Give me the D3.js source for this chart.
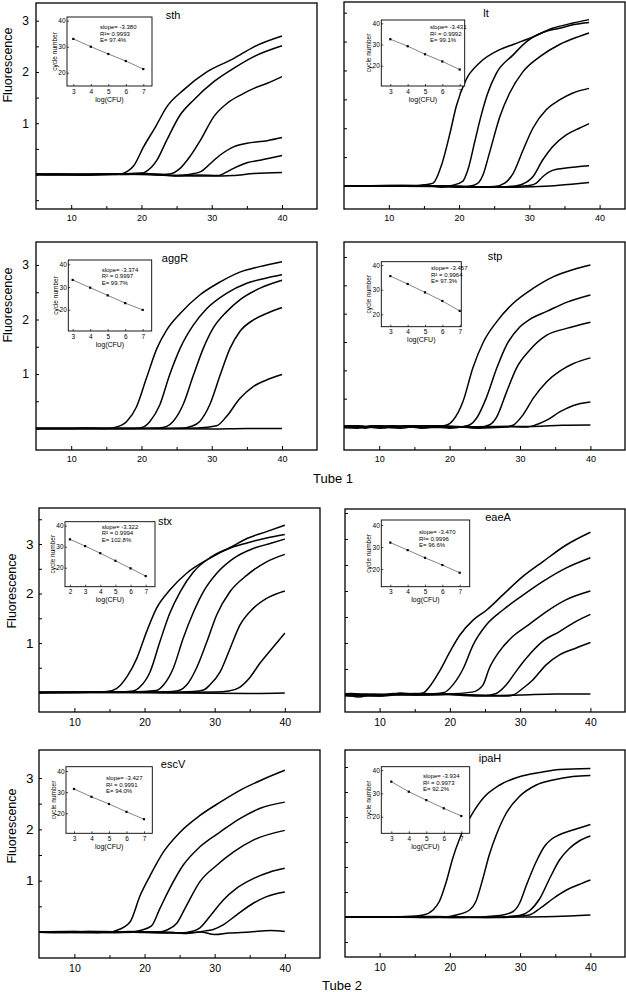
<!DOCTYPE html>
<html><head><meta charset="utf-8">
<script src="https://cdn.jsdelivr.net/npm/d3@7"></script>
<style>
body{margin:0;background:#fff}
svg{display:block}
text{font-family:"Liberation Sans",Arial,Helvetica,sans-serif;fill:#000}
</style>
</head><body>
<svg id="chart" width="626" height="992"></svg>
<script>
// ---------------- DATA ----------------
const genes = ["sth","lt","aggR","stp","stx","eaeA","escV","ipaH"];
const tubeLabels = ["Tube 1","Tube 2"];
const yAxisTitle = "Fluorescence";
const xTickValues = [10,15,20,25,30,35,40];
const xTickLabels = [10,20,30,40];
const yTickValues = [-0.5,0,0.5,1,1.5,2,2.5,3,3.5];
const yTickLabels = [1,2,3];
const insetYTicks = [20,30,40];
const insetXTitle = "log(CFU)";
const insetYTitle = "cycle number";

const insetStats = [
  ["slope= -3.380","R\u00b2= 0.9993","E= 97.4%"],
  ["slope= -3.431","R\u00b2 = 0.9992","E= 99.1%"],
  ["slope= -3.374","R\u00b2 = 0.9997","E= 99.7%"],
  ["slope= -3.457","R\u00b2 = 0.9964","E= 97.3%"],
  ["slope= -3.322","R\u00b2 = 0.9994","E= 102.8%"],
  ["slope= -3.470","R\u00b2= 0.9996","E= 96.6%"],
  ["slope= -3.427","R\u00b2 = 0.9991","E= 94.0%"],
  ["slope= -3.934","R\u00b2 = 0.9973","E= 92.2%"]
];
const insetLogCFU = [
  [3,4,5,6,7],[3,4,5,6,7],[3,4,5,6,7],[3,4,5,6,7],
  [2,3,4,5,6,7],[3,4,5,6,7],[3,4,5,6,7],[3,4,5,6,7]
];
const insetCycles = [
  [33.0,30.0,27.2,24.5,21.4],
  [32.5,29.2,25.4,22.0,18.2],
  [33.1,29.7,26.3,22.9,19.9],
  [35.5,32.3,28.9,25.4,21.4],
  [33.5,30.3,26.9,23.3,19.7,16.0],
  [32.0,28.6,25.1,21.8,18.3],
  [31.5,27.8,24.4,20.7,17.2],
  [35.0,30.7,27.1,23.6,20.3]
];

// amplification curves: [cycle, fluorescence]
const sthCurves = [
  [[3,0],[8,0.01],[12,-0.01],[15,0.01],[17,0.01],[18,0.06],[18.9,0.17],[20.3,0.54],[22,0.93],[23.6,1.32],[26,1.65],[29.3,2.0],[33.1,2.26],[36,2.49],[40,2.70]],
  [[3,0.01],[9,0],[14,0.01],[18,0],[20,0.02],[20.8,0.07],[22.2,0.28],[23.6,0.67],[25.5,1.16],[27.4,1.45],[30.3,1.81],[33.1,2.07],[36,2.3],[40,2.51]],
  [[3,0],[10,-0.01],[16,0],[20,0.03],[22,0],[24,0.01],[25.5,0.12],[26.9,0.35],[28.4,0.67],[30.3,1.13],[32.2,1.39],[34.1,1.55],[36,1.68],[37.9,1.78],[40,1.91]],
  [[3,0.01],[12,0],[20,0.01],[24,-0.02],[26,-0.01],[27.5,0.02],[28.5,0.06],[29.3,0.15],[31.2,0.38],[33.1,0.54],[35,0.61],[37.9,0.66],[40,0.72]],
  [[3,0],[14,0],[22,0.01],[25,-0.03],[28,-0.01],[31,-0.02],[32,0.04],[33.1,0.12],[35,0.23],[36.9,0.28],[40,0.37]],
  [[3,0],[16,0.01],[25,-0.02],[30,-0.03],[33,-0.02],[36,0.02],[40,0.04]]
];
const ltCurves = [
  [[3,0],[10,0.01],[14,0.01],[15,0.02],[16.3,0.05],[17.5,0.36],[18.7,0.91],[19.6,1.38],[21,1.84],[22.9,2.13],[25.8,2.36],[27.7,2.45],[30.5,2.58],[33.3,2.73],[36.2,2.82],[38.5,2.88]],
  [[3,0],[12,0.01],[16,0],[17.5,-0.02],[19,0.01],[20.5,0.08],[21.3,0.3],[22.2,0.75],[23.1,1.2],[24,1.58],[25.3,1.95],[27.7,2.27],[29.6,2.5],[32.4,2.68],[34.3,2.73],[36.2,2.79],[38.5,2.83]],
  [[3,0],[15,0],[20,-0.02],[22,0.01],[22.8,0.06],[23.4,0.19],[24.3,0.56],[25.8,1.2],[27.2,1.61],[29.1,1.98],[31.5,2.24],[34.3,2.45],[37.1,2.59],[38.5,2.65]],
  [[3,0],[18,0],[22,-0.02],[25,-0.01],[26.5,0.05],[27.7,0.22],[29.1,0.62],[30.5,1.0],[32.4,1.32],[34.3,1.49],[36.2,1.61],[38.5,1.69]],
  [[3,0],[18,0],[24,-0.02],[28,0],[29,0.03],[30.5,0.16],[31.9,0.45],[33.3,0.68],[35.2,0.88],[37.1,1.0],[38.5,1.08]],
  [[3,0],[20,-0.01],[26,-0.02],[30,0.01],[31,0.05],[31.9,0.16],[33.3,0.27],[35.2,0.31],[38.5,0.35]],
  [[3,0],[20,-0.01],[28,-0.02],[33,0],[36,0.03],[38.5,0.06]]
];
const aggRCurves = [
  [[3,0],[10,0],[12,0.01],[15,0],[16.5,0.03],[17.9,0.13],[19.3,0.4],[20.7,0.92],[22.2,1.47],[23.6,1.81],[25.5,2.11],[28.3,2.45],[31.2,2.69],[34,2.87],[36.8,2.97],[40,3.06]],
  [[3,0],[15,0],[19,0],[20.3,0.03],[21.2,0.13],[22.6,0.43],[24,0.98],[25.5,1.47],[27.4,1.9],[29.3,2.2],[32.1,2.48],[34.9,2.66],[37.8,2.76],[40,2.82]],
  [[3,0],[18,0],[22.5,0.01],[23.6,0.04],[24.5,0.13],[25.9,0.43],[27.4,0.98],[28.8,1.47],[30.2,1.84],[32.1,2.14],[34,2.36],[36.8,2.57],[40,2.72]],
  [[3,0],[20,0],[26,0.01],[27.1,0.04],[28.3,0.13],[29.7,0.43],[31.2,0.98],[32.6,1.47],[34,1.78],[35.9,1.99],[37.8,2.11],[40,2.22]],
  [[3,0],[22,0],[28,0.01],[30.7,0.05],[32.1,0.22],[34,0.55],[35.9,0.77],[37.8,0.89],[40,0.99]],
  [[3,0],[20,0],[30,-0.01],[35,0],[40,0]]
];
const stpCurves = [
  [[3,0],[6,0.02],[8,-0.02],[10,0.02],[12,-0.01],[14,0.02],[16,-0.02],[18,0.01],[19.5,0.03],[20.5,0.12],[21.9,0.45],[23.3,1.04],[24.8,1.5],[26.7,1.86],[29,2.18],[31.9,2.45],[34.7,2.65],[37.6,2.78],[40,2.86]],
  [[3,0],[7,-0.02],[9,0.02],[11,0],[13,-0.02],[15,0.01],[17,0.02],[20,-0.02],[22,0.01],[22.9,0.04],[23.8,0.15],[25.2,0.51],[26.7,1.04],[28.1,1.45],[30,1.77],[31.4,1.9],[33.8,2.04],[36.6,2.2],[40,2.33]],
  [[3,0.01],[7,0.02],[10,-0.02],[14,0.01],[18,-0.01],[21,0],[24,-0.01],[25.7,0.04],[26.7,0.18],[28.1,0.62],[29.5,1.04],[31.4,1.36],[33.8,1.62],[36.6,1.74],[40,1.85]],
  [[3,-0.01],[8,0.01],[12,0.02],[16,-0.01],[20,0.01],[24,-0.02],[28,0],[29,0.03],[30.4,0.21],[31.9,0.51],[33.8,0.8],[35.7,0.99],[37.6,1.12],[40,1.22]],
  [[3,0],[10,0],[18,0.02],[24,0],[28,0.01],[31,0],[32.1,0.03],[33.8,0.12],[35.7,0.27],[37.6,0.38],[40,0.44]],
  [[3,0.02],[9,0],[15,0.02],[20,0],[26,0.01],[32,0.01],[36,0.03],[40,0.035]]
];
const stxCurves = [
  [[3,0],[10,0],[13,0.01],[14.6,0.02],[16,0.08],[17.5,0.32],[18.9,0.69],[20.3,1.23],[21.7,1.7],[23.6,2.07],[26,2.41],[28.9,2.68],[31.7,2.89],[34.6,3.02],[37.4,3.12],[40,3.19]],
  [[3,0],[16,0.01],[18.4,0.03],[19.4,0.12],[20.8,0.42],[22.2,1.03],[23.6,1.6],[25.1,2.04],[27,2.44],[29.4,2.73],[32.2,2.93],[34.6,3.11],[37.4,3.25],[40,3.38]],
  [[3,0],[18,0.01],[21.7,0.04],[22.7,0.15],[24.1,0.49],[25.5,1.09],[27,1.63],[28.4,2.04],[30.3,2.41],[32.7,2.71],[35.5,2.91],[37.9,3.01],[40,3.1]],
  [[3,0],[20,0.01],[24,0.02],[25.1,0.05],[26,0.15],[27.4,0.49],[28.9,1.03],[30.3,1.57],[32.2,2.04],[34.6,2.37],[37.4,2.64],[40,2.79]],
  [[3,0],[22,0],[27,0.02],[28.4,0.05],[29.3,0.15],[30.8,0.42],[32.2,0.89],[33.6,1.36],[35.5,1.7],[37.4,1.9],[40,2.05]],
  [[3,0],[24,0],[30,0.01],[32,0.03],[33.5,0.1],[35,0.3],[36.5,0.6],[38,0.86],[40,1.2]],
  [[3,0],[15,0.01],[25,-0.01],[35,-0.02],[40,-0.01]]
];
const eaeACurves = [
  [[3,-0.02],[5,0.01],[7,-0.04],[9,0.01],[11,0],[13,0.04],[15,0.02],[16.2,0.04],[17.1,0.16],[18.5,0.45],[20,0.83],[21.4,1.15],[23.3,1.44],[25.2,1.63],[27.5,1.92],[30.4,2.28],[33.2,2.56],[36.5,2.88],[40,3.13]],
  [[3,0.02],[6,-0.02],[8,0.01],[10,-0.02],[12,0.03],[14,0.01],[17,0.02],[19.2,0.05],[20.4,0.19],[21.9,0.51],[23.3,0.96],[25.2,1.35],[27.5,1.63],[30.4,1.92],[33.2,2.18],[36.5,2.44],[40,2.64]],
  [[3,0],[6,0.03],[9,-0.01],[12,0.02],[16,0],[20,0.02],[23.3,0.06],[24.7,0.19],[25.6,0.51],[27,0.83],[28.9,1.12],[31.2,1.35],[33.7,1.6],[36.5,1.83],[40,2.0]],
  [[3,-0.01],[8,0.02],[14,0],[20,0.01],[25,-0.01],[26.6,0.03],[28,0.19],[29.4,0.45],[30.9,0.71],[33.2,1.03],[35.6,1.22],[37.9,1.41],[40,1.55]],
  [[3,0],[10,0.01],[18,0.02],[24,-0.02],[28,-0.02],[29,0],[30.4,0.13],[31.8,0.29],[33.7,0.58],[35.6,0.77],[37.9,0.9],[40,1.01]],
  [[3,0.01],[10,-0.02],[15,0.03],[20,0.02],[26,-0.01],[30,0],[35,0.02],[40,0.02]]
];
const escVCurves = [
  [[3,0],[8,-0.01],[12,0.01],[15,0],[16,0.03],[17.9,0.19],[19.4,0.72],[20.8,1.1],[22.7,1.56],[25.1,1.95],[27.9,2.27],[30.8,2.53],[33.6,2.76],[37,2.98],[40,3.15]],
  [[3,0],[10,0.01],[14,-0.01],[18,0],[19.4,0.03],[21,0.12],[22.2,0.46],[23.6,0.85],[25.5,1.3],[27.9,1.66],[30.8,1.95],[33.6,2.21],[36.5,2.41],[40,2.53]],
  [[3,0],[12,-0.01],[18,0.01],[22,0],[23.2,0.04],[24.6,0.17],[26,0.52],[27.9,0.98],[30.3,1.3],[32.7,1.56],[35.5,1.79],[40,1.98]],
  [[3,0],[14,0.01],[20,-0.01],[25,-0.02],[27,0.02],[27.9,0.08],[29.3,0.3],[31.2,0.62],[33.1,0.85],[35.5,1.04],[37.9,1.17],[40,1.24]],
  [[3,0],[15,-0.01],[22,0],[26,-0.02],[29,0.03],[29.8,0.05],[31.2,0.14],[33.1,0.33],[35.5,0.56],[37.4,0.69],[40,0.78]],
  [[3,0],[10,-0.01],[18,0],[24,-0.01],[26,-0.03],[28,0],[30,-0.05],[32,-0.02],[35,0],[38,0.03],[40,0.01]]
];
const ipaHCurves = [
  [[3,0],[10,0],[14,0.01],[16.2,0.04],[17.6,0.14],[18.5,0.31],[19.5,0.71],[20.4,1.17],[21.4,1.57],[22.8,1.97],[24.7,2.37],[27.1,2.64],[30,2.81],[32.8,2.89],[35.6,2.95],[40,2.97]],
  [[3,0],[12,0],[17,-0.01],[20,0.01],[20.9,0.04],[22.8,0.14],[23.7,0.31],[24.7,0.77],[25.6,1.24],[26.6,1.64],[28,2.07],[29.9,2.41],[32.3,2.64],[34.7,2.74],[37.5,2.81],[40,2.83]],
  [[3,0],[15,0],[22,-0.01],[27.1,0.03],[29,0.11],[29.9,0.27],[30.9,0.64],[32.3,1.11],[33.5,1.42],[34.5,1.56],[35.5,1.64],[37.5,1.74],[40,1.85]],
  [[3,0],[18,0.01],[25,-0.01],[29.9,0.03],[31.3,0.12],[32.8,0.37],[34.2,0.77],[35.6,1.14],[37,1.37],[38.4,1.52],[40,1.62]],
  [[3,0],[20,0],[27,-0.01],[31.3,0.04],[32.8,0.17],[34.7,0.37],[36.6,0.54],[38.4,0.65],[40,0.74]],
  [[3,0],[20,-0.01],[30,0],[35,0.01],[40,0.04]]
];
const curveSets = [sthCurves, ltCurves, aggRCurves, stpCurves, stxCurves, eaeACurves, escVCurves, ipaHCurves];

// ---------------- LAYOUT ----------------
const layout = [
  {l:36, r:317, t:3,   b:209, x10:71.2,  x40:282,   y0:174.5, y3:20.7, left:true,  row:0, title:[173,15], fl:[8,65],
   ins:{l:67, r:152, t:17, b:86, x3:73.3, x7:143.3, y40:20.7, y20:72.7, tx:100, ty:29}},
  {l:344,r:625, t:2,   b:209, x10:388.8, x40:599.6, y0:186,   y3:12.7, left:false, row:0, title:[486,13],
   ins:{l:381.3, r:464.7, t:20, b:86, x3:390.3, x7:459.7, y40:23.3, y20:65.7, tx:430, ty:29}},
  {l:36, r:317, t:242, b:450, x10:71.2,  x40:282,   y0:428.5, y3:265, left:true,  row:1, title:[175,258], fl:[8,305],
   ins:{l:68.3, r:151.7, t:260, b:331, x3:72.7, x7:142.7, y40:264.3, y20:309.7, tx:101.7, ty:271.5}},
  {l:344,r:625, t:242, b:450, x10:379.2, x40:590.4, y0:427,   y3:257, left:false, row:1, title:[495,256],
   ins:{l:381.3, r:461.3, t:261.7, b:326.7, x3:390.3, x7:459.7, y40:265, y20:314.3, tx:431, ty:270}},
  {l:39, r:320, t:508, b:712, x10:74.4,  x40:284.8, y0:692.5, y3:544, left:true,  row:2, title:[165,521], fl:[12,591],
   ins:{l:65, r:155, t:521.7, b:586.7, x3:85.1, x7:145.7, y40:525.7, y20:567.7, tx:101.7, ty:528.5}},
  {l:345,r:625, t:509, b:712, x10:379.6, x40:590.4, y0:695,   y3:539, left:false, row:2, title:[498,517],
   ins:{l:381.3, r:469.7, t:520, b:586.7, x3:390.3, x7:459.7, y40:525, y20:569, tx:419, ty:534}},
  {l:39, r:320, t:750, b:958, x10:74.4,  x40:284.8, y0:932,   y3:778, left:true,  row:3, title:[173,764], fl:[12,826],
   ins:{l:66, r:152.3, t:766.7, b:833.3, x3:74, x7:144, y40:771, y20:813.3, tx:106, ty:780}},
  {l:345,r:625, t:750, b:957, x10:379.6, x40:590.4, y0:917,   y3:767, left:false, row:3, title:[490,758],
   ins:{l:381.3, r:469.7, t:766.7, b:833.3, x3:391.3, x7:461.3, y40:770, y20:816.7, tx:423, ty:778}}
];
const tubePos = [[333,483],[342,990]];

// ---------------- DRAW ----------------
const svg = d3.select("#chart");
svg.append("rect").attr("width",626).attr("height",992).attr("fill","#fff");
const defs = svg.append("defs");
const intFmt = d3.format("d");

layout.forEach((L,i) => {
  const small = L.row < 2;
  const tickFont = small ? 9 : 10.5;
  const yFont = small ? 12 : 13.5;
  const x = d3.scaleLinear().domain([10,40]).range([L.x10, L.x40]);
  const y = d3.scaleLinear().domain([0,3]).range([L.y0, L.y3]);
  const g = svg.append("g");

  defs.append("clipPath").attr("id","clip"+i)
    .append("rect").attr("x",L.l).attr("y",L.t).attr("width",L.r-L.l).attr("height",L.b-L.t);

  // curves
  const line = d3.line().x(d=>x(d[0])).y(d=>y(d[1])).curve(d3.curveMonotoneX);
  g.append("g").attr("clip-path",`url(#clip${i})`)
    .selectAll("path").data(curveSets[i]).join("path")
    .attr("d", line).attr("fill","none").attr("stroke","#000")
    .attr("stroke-width",1.5).attr("stroke-linejoin","round");

  // x axis ticks (inward)
  const xMajor = xTickValues.filter(v=>xTickLabels.includes(v));
  const xMinor = xTickValues.filter(v=>!xTickLabels.includes(v));
  const xa = g.append("g").attr("transform",`translate(0,${L.b})`)
    .call(d3.axisBottom(x).tickValues(xMajor).tickSizeInner(-4).tickSizeOuter(0)
      .tickPadding(small?6:6.5).tickFormat(intFmt));
  xa.select(".domain").remove();
  xa.selectAll("text").attr("font-size",tickFont).attr("font-family",null);
  xa.selectAll("line").attr("stroke","#000").attr("stroke-width",1);
  const xm = g.append("g").attr("transform",`translate(0,${L.b})`)
    .call(d3.axisBottom(x).tickValues(xMinor).tickSizeInner(-3).tickSizeOuter(0).tickFormat(""));
  xm.select(".domain").remove();

  // y axis ticks (inward)
  const yDom = [y.invert(L.b), y.invert(L.t)];
  const yVals = yTickValues.filter(v => v > yDom[0]+0.05 && v < yDom[1]-0.05);
  const ya = g.append("g").attr("transform",`translate(${L.l},0)`)
    .call(d3.axisLeft(y).tickValues(yVals).tickSizeInner(-3).tickSizeOuter(0)
      .tickPadding(L.left ? (small?7:5.5) : 0)
      .tickFormat(v => (L.left && yTickLabels.includes(v)) ? intFmt(v) : ""));
  ya.select(".domain").remove();
  ya.selectAll("text").attr("font-size",yFont).attr("font-family",null);

  // frame
  g.append("rect").attr("x",L.l).attr("y",L.t).attr("width",L.r-L.l).attr("height",L.b-L.t)
    .attr("fill","none").attr("stroke","#000").attr("stroke-width",1.3);

  // title
  g.append("text").attr("x",L.title[0]).attr("y",L.title[1]+4).attr("text-anchor","middle")
    .attr("font-size",11).text(genes[i]);

  // y axis title
  if (L.left) {
    g.append("text").attr("transform",`translate(${L.fl[0]},${L.fl[1]}) rotate(-90)`)
      .attr("text-anchor","middle").attr("dominant-baseline","central")
      .attr("font-size",12.5).text(yAxisTitle);
  }

  // inset
  const I = L.ins;
  const xs = insetLogCFU[i];
  const ix = d3.scaleLinear().domain([3,7]).range([I.x3, I.x7]);
  const iy = d3.scaleLinear().domain([20,40]).range([I.y20, I.y40]);
  const ig = g.append("g");
  ig.append("rect").attr("x",I.l).attr("y",I.t).attr("width",I.r-I.l).attr("height",I.b-I.t)
    .attr("fill","#fff").attr("stroke","#000").attr("stroke-width",0.9);
  const ixa = ig.append("g").attr("transform",`translate(0,${I.b})`)
    .call(d3.axisBottom(ix).tickValues(xs).tickSizeInner(-2).tickSizeOuter(0).tickPadding(3).tickFormat(intFmt));
  ixa.select(".domain").remove();
  ixa.selectAll("text").attr("font-size",6.5).attr("font-family",null);
  const iya = ig.append("g").attr("transform",`translate(${I.l},0)`)
    .call(d3.axisLeft(iy).tickValues(insetYTicks).tickSizeInner(-2).tickSizeOuter(0).tickPadding(1.5).tickFormat(intFmt));
  iya.select(".domain").remove();
  iya.selectAll("text").attr("font-size",6.5).attr("font-family",null);
  ig.selectAll(".tick line").attr("stroke-width",0.7);
  const pts = xs.map((v,k)=>[v, insetCycles[i][k]]);
  ig.append("path").attr("d", d3.line().x(d=>ix(d[0])).y(d=>iy(d[1]))(pts))
    .attr("fill","none").attr("stroke","#777").attr("stroke-width",0.9);
  ig.selectAll("rect.pt").data(pts).join("rect").attr("class","pt")
    .attr("x",d=>ix(d[0])-1.1).attr("y",d=>iy(d[1])-1.1).attr("width",2.2).attr("height",2.2).attr("fill","#000");
  ig.append("text").attr("x",(I.l+I.r)/2).attr("y",I.b+15.5).attr("text-anchor","middle")
    .attr("font-size",7).text(insetXTitle);
  ig.append("text").attr("transform",`translate(${I.l-10.5},${(I.t+I.b)/2}) rotate(-90)`)
    .attr("text-anchor","middle").attr("font-size",6.5).text(insetYTitle);
  insetStats[i].forEach((s,k)=>{
    ig.append("text").attr("x",I.tx).attr("y",I.ty + k*6.5).attr("font-size",6).text(s);
  });
});

tubeLabels.forEach((t,k)=>{
  svg.append("text").attr("x",tubePos[k][0]).attr("y",tubePos[k][1]).attr("text-anchor","middle")
    .attr("font-size",13).text(t);
});
</script>
</body></html>
